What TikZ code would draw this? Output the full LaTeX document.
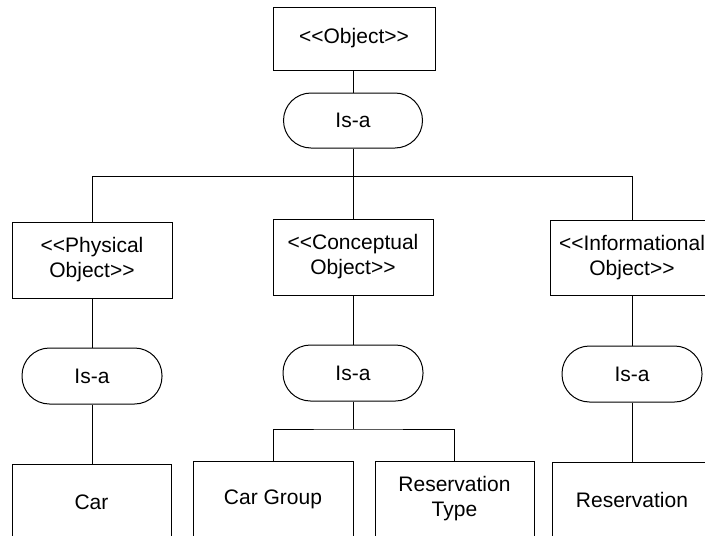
\documentclass[tikz,border=0pt]{standalone}
\usepackage{fontspec}
\setmainfont{Liberation Sans}
% double angle brackets, kept apart so they are not turned into guillemets
\newcommand{\stereoopen}{<\kern0pt<}
\newcommand{\stereoclose}{>\kern0pt>}
\begin{document}
\begin{tikzpicture}[x=1pt,y=-1pt,
  every node/.style={font=\fontsize{21}{25}\selectfont, inner sep=0pt, align=center},
  box/.style={draw, line width=1pt, minimum width=160pt, minimum height=76pt},
  isa/.style={draw, line width=1pt, rounded corners=27.5pt, minimum width=140pt, minimum height=56pt},
  link/.style={line width=1pt}]
\useasboundingbox (0,0) rectangle (705,536);
\clip (0,0) rectangle (705,536);

% root and its is-a relation
\node[box, minimum width=162pt, minimum height=63pt] (obj) at (354,38.5) {\stereoopen Object\stereoclose};
\node[isa, minimum width=139pt, minimum height=55pt] (isa0) at (353,120.5) {Is-a};

% second level categories
\node[box] (phys) at (92,260) {\stereoopen Physical\\Object\stereoclose};
\node[box] (conc) at (353,257) {\stereoopen Conceptual\\Object\stereoclose};
\node[box, minimum width=164pt, minimum height=75pt] (info) at (632,257.5) {\stereoopen Informational\\Object\stereoclose};

% is-a relations of the categories
\node[isa] (isa1) at (92,376) {Is-a};
\node[isa] (isa2) at (353,373) {Is-a};
\node[isa] (isa3) at (632,374) {Is-a};

% leaf classes
\node[box, minimum width=159pt] (car) at (91.5,502) {Car};
\node[box] (cargroup) at (273,499) {Car Group};
\node[box, minimum width=159pt] (restype) at (454.5,499) {Reservation\\Type};
\node[box] (resv) at (632,500) {Reservation};

% branch points
\coordinate (hub) at (353,176);
\coordinate (split) at (353,429);

% connectors
\draw[link] (obj.south -| isa0.north) -- (isa0.north);
\draw[link] (isa0.south) -- (hub);
\draw[link] (hub) -| (phys.north);
\draw[link] (hub) -- (conc.north);
\draw[link] (hub) -| (info.north);

\draw[link] (phys.south) -- (isa1.north);
\draw[link] (conc.south) -- (isa2.north);
\draw[link] (info.south) -- (isa3.north);

\draw[link] (isa1.south) -- (car.north -| isa1.south);
\draw[link] (isa2.south) -- (split);
\draw[link] (cargroup.north) |- (split) -| (restype.north);
\draw[link] (isa3.south) -- (resv.north);
\end{tikzpicture}
\end{document}
